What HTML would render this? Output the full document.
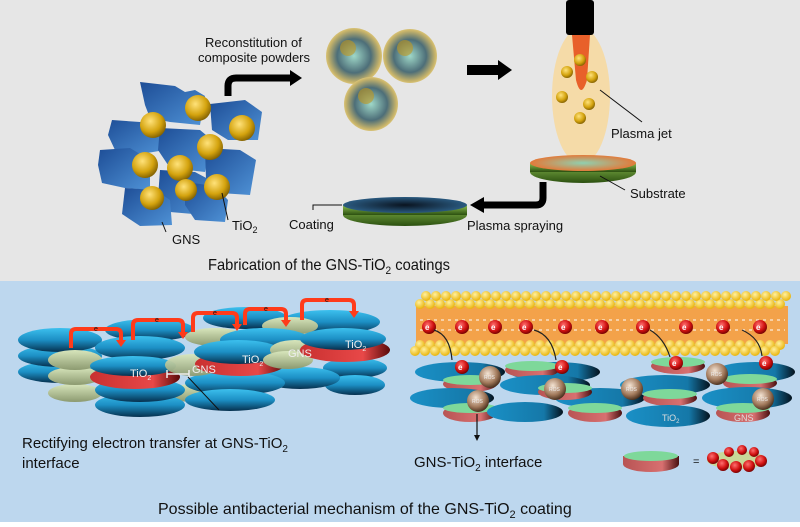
<!DOCTYPE html>
<html><head><meta charset="utf-8"><style>
html,body{margin:0;padding:0;width:800px;height:527px;overflow:hidden;background:#fff}
svg{display:block}
text{font-family:"Liberation Sans",Arial,sans-serif;fill:#111}
</style></head><body>
<svg width="800" height="527" viewBox="0 0 800 527" xmlns="http://www.w3.org/2000/svg">
<defs>
<linearGradient id="blue" x1="0" y1="0" x2="0" y2="1"><stop offset="0" stop-color="#3cc0ee"/><stop offset="0.5" stop-color="#1c8fc4"/><stop offset="1" stop-color="#06304e"/></linearGradient>
<linearGradient id="blueH" x1="0" y1="0" x2="1" y2="0"><stop offset="0" stop-color="#1a90c6"/><stop offset="0.75" stop-color="#1578a8"/><stop offset="1" stop-color="#04121e"/></linearGradient>
<linearGradient id="green" x1="0" y1="0" x2="0" y2="1"><stop offset="0" stop-color="#d8e6bc"/><stop offset="1" stop-color="#8c9a70"/></linearGradient>
<linearGradient id="red" x1="0" y1="0" x2="1" y2="0"><stop offset="0" stop-color="#c83030"/><stop offset="0.7" stop-color="#e84848"/><stop offset="1" stop-color="#5a0a0a"/></linearGradient>
<linearGradient id="redb" x1="0" y1="0" x2="1" y2="0"><stop offset="0" stop-color="#b85454"/><stop offset="0.7" stop-color="#d87070"/><stop offset="1" stop-color="#4a1010"/></linearGradient>
<linearGradient id="sheet" x1="0" y1="0" x2="1" y2="1"><stop offset="0" stop-color="#1d4d96"/><stop offset="1" stop-color="#4f92d6"/></linearGradient>
<radialGradient id="gold" cx="0.4" cy="0.35" r="0.7"><stop offset="0" stop-color="#ffe27a"/><stop offset="0.6" stop-color="#d4a30e"/><stop offset="1" stop-color="#7a5a00"/></radialGradient>
<radialGradient id="bub" cx="0.5" cy="0.5" r="0.55"><stop offset="0" stop-color="#9fd8c8"/><stop offset="0.55" stop-color="#4d6e78"/><stop offset="0.85" stop-color="#c8b46a"/><stop offset="1" stop-color="#f2d98c"/></radialGradient>
<radialGradient id="ros" cx="0.4" cy="0.35" r="0.7"><stop offset="0" stop-color="#f4e4d4"/><stop offset="0.6" stop-color="#a27a5c"/><stop offset="1" stop-color="#3c2414"/></radialGradient>
<radialGradient id="el" cx="0.4" cy="0.35" r="0.7"><stop offset="0" stop-color="#ff7070"/><stop offset="0.6" stop-color="#d01010"/><stop offset="1" stop-color="#600"/></radialGradient>
<radialGradient id="ys" cx="0.4" cy="0.35" r="0.7"><stop offset="0" stop-color="#fff0a0"/><stop offset="1" stop-color="#e8b000"/></radialGradient>
<linearGradient id="subs" x1="0" y1="0" x2="0" y2="1"><stop offset="0" stop-color="#8cc050"/><stop offset="1" stop-color="#2c5010"/></linearGradient>
<radialGradient id="subtop" cx="0.5" cy="0.5" r="0.5"><stop offset="0" stop-color="#8fd0b0"/><stop offset="1" stop-color="#e27a3a"/></radialGradient>
<radialGradient id="cotop" cx="0.5" cy="0.5" r="0.5"><stop offset="0" stop-color="#0a1420"/><stop offset="1" stop-color="#2a5a80"/></radialGradient>
</defs>

<rect x="0" y="0" width="800" height="281" fill="#e6e6e6"/>
<rect x="0" y="281" width="800" height="241" fill="#bdd7ee"/>

<!-- GNS cluster -->
<g stroke="none">
<path d="M140 82 L175 86 L185 92 L195 90 L205 96 L200 125 L170 122 L150 118 L145 105Z" fill="url(#sheet)"/>
<path d="M210 104 L245 100 L262 112 L258 140 L228 140 L212 130Z" fill="url(#sheet)"/>
<path d="M112 120 L140 122 L160 118 L165 150 L135 155 L115 150 L108 135Z" fill="url(#sheet)"/>
<path d="M160 128 L200 130 L212 140 L205 172 L170 168 L158 150Z" fill="url(#sheet)"/>
<path d="M100 150 L130 148 L150 160 L150 190 L125 188 L102 183 L98 165Z" fill="url(#sheet)"/>
<path d="M205 148 L240 150 L256 160 L250 195 L220 193 L206 180Z" fill="url(#sheet)"/>
<path d="M160 170 L195 172 L210 180 L205 215 L170 212 L158 198Z" fill="url(#sheet)"/>
<path d="M125 188 L155 190 L170 200 L172 225 L140 226 L122 214Z" fill="url(#sheet)"/>
<path d="M185 182 L215 186 L228 200 L225 222 L195 220 L185 205Z" fill="url(#sheet)"/>
</g>
<g fill="url(#gold)">
<circle cx="198" cy="108" r="13"/><circle cx="153" cy="125" r="13"/><circle cx="242" cy="128" r="13"/>
<circle cx="210" cy="147" r="13"/><circle cx="145" cy="165" r="13"/><circle cx="180" cy="168" r="13"/>
<circle cx="217" cy="187" r="13"/><circle cx="152" cy="198" r="12"/><circle cx="186" cy="190" r="11"/>
</g>
<line x1="222" y1="193" x2="228" y2="220" stroke="#111" stroke-width="1"/>
<line x1="162" y1="222" x2="166" y2="232" stroke="#111" stroke-width="1"/>
<text x="232" y="230" font-size="13">TiO<tspan font-size="9" dy="3">2</tspan></text>
<text x="172" y="244" font-size="13">GNS</text>

<path d="M228 96 L228 86 Q228 78 236 78 L292 78" fill="none" stroke="#000" stroke-width="7"/>
<polygon points="290,70 302,78 290,86" fill="#000"/>
<text x="205" y="47" font-size="13">Reconstitution of</text>
<text x="198" y="62" font-size="13">composite powders</text>

<g>
<circle cx="354" cy="56" r="28" fill="url(#bub)"/>
<circle cx="410" cy="56" r="27" fill="url(#bub)"/>
<circle cx="371" cy="104" r="27" fill="url(#bub)"/>
<circle cx="348" cy="48" r="8" fill="#c09820" opacity="0.6"/>
<circle cx="405" cy="48" r="8" fill="#c09820" opacity="0.6"/>
<circle cx="366" cy="96" r="8" fill="#c09820" opacity="0.6"/>
</g>

<rect x="467" y="65" width="32" height="10" fill="#000"/>
<polygon points="498,60 512,70 498,80" fill="#000"/>

<ellipse cx="581" cy="96" rx="29" ry="68" fill="#f5dba8"/>
<rect x="566" y="0" width="28" height="35" rx="3" fill="#000"/>
<path d="M572 35 L590 35 L587 80 Q581 100 576 80Z" fill="#e8602a"/>
<g fill="url(#gold)">
<circle cx="580" cy="60" r="6"/><circle cx="567" cy="72" r="6"/><circle cx="592" cy="77" r="6"/>
<circle cx="562" cy="97" r="6"/><circle cx="589" cy="104" r="6"/><circle cx="580" cy="118" r="6"/>
</g>
<line x1="600" y1="90" x2="642" y2="122" stroke="#111" stroke-width="1"/>
<text x="611" y="138" font-size="13">Plasma jet</text>

<ellipse cx="583" cy="172" rx="53" ry="11" fill="url(#subs)"/>
<rect x="530" y="163" width="106" height="9" fill="url(#subs)"/>
<ellipse cx="583" cy="163" rx="53" ry="8" fill="url(#subtop)"/>
<line x1="600" y1="176" x2="625" y2="190" stroke="#111" stroke-width="1"/>
<text x="630" y="198" font-size="13">Substrate</text>
<path d="M543 182 L543 198 Q543 205 536 205 L482 205" fill="none" stroke="#000" stroke-width="7"/>
<polygon points="484,197 470,205 484,213" fill="#000"/>
<text x="467" y="230" font-size="13">Plasma spraying</text>

<ellipse cx="405" cy="215" rx="62" ry="11" fill="url(#subs)"/>
<rect x="343" y="205" width="124" height="10" fill="url(#subs)"/>
<ellipse cx="405" cy="205" rx="62" ry="8" fill="url(#cotop)"/>
<path d="M342 205 L313 205 L313 210" fill="none" stroke="#111" stroke-width="1"/>
<text x="289" y="229" font-size="13">Coating</text>

<text x="208" y="270" font-size="16" textLength="242" lengthAdjust="spacingAndGlyphs">Fabrication of the GNS-TiO<tspan font-size="11" dy="4">2</tspan><tspan dy="-4"> coatings</tspan></text>

<g>
<ellipse cx="245" cy="318" rx="42" ry="11" fill="url(#blue)"/>
<ellipse cx="330" cy="322" rx="50" ry="12" fill="url(#blue)"/>
<ellipse cx="150" cy="330" rx="45" ry="11" fill="url(#blue)"/>
<ellipse cx="215" cy="337" rx="30" ry="9" fill="url(#green)"/>
<ellipse cx="290" cy="326" rx="28" ry="9" fill="url(#green)"/>
<ellipse cx="60" cy="372" rx="42" ry="11" fill="url(#blue)"/>
<ellipse cx="60" cy="356" rx="42" ry="11" fill="url(#blue)"/>
<ellipse cx="60" cy="340" rx="42" ry="12" fill="url(#blue)"/>
<ellipse cx="75" cy="393" rx="27" ry="9" fill="url(#green)"/>
<ellipse cx="75" cy="376" rx="27" ry="9" fill="url(#green)"/>
<ellipse cx="75" cy="360" rx="27" ry="10" fill="url(#green)"/>
<ellipse cx="140" cy="348" rx="45" ry="12" fill="url(#blue)"/>
<ellipse cx="265" cy="340" rx="45" ry="12" fill="url(#blue)"/>
<ellipse cx="355" cy="368" rx="32" ry="10" fill="url(#blue)"/>
<ellipse cx="355" cy="385" rx="30" ry="10" fill="url(#blue)"/>
<ellipse cx="300" cy="378" rx="40" ry="11" fill="url(#blue)"/>
<ellipse cx="195" cy="393" rx="30" ry="9" fill="url(#green)"/>
<ellipse cx="235" cy="383" rx="50" ry="12" fill="url(#blue)"/>
<ellipse cx="230" cy="400" rx="45" ry="11" fill="url(#blue)"/>
<ellipse cx="140" cy="405" rx="45" ry="12" fill="url(#blue)"/>
<ellipse cx="140" cy="390" rx="45" ry="12" fill="url(#blue)"/>
<ellipse cx="135" cy="377" rx="45" ry="12" fill="url(#red)"/>
<ellipse cx="133" cy="366" rx="43" ry="10" fill="url(#blue)"/>
<ellipse cx="193" cy="365" rx="28" ry="11" fill="url(#green)" opacity="0.95"/>
<ellipse cx="240" cy="364" rx="45" ry="12" fill="url(#red)"/>
<ellipse cx="238" cy="352" rx="44" ry="12" fill="url(#blue)"/>
<ellipse cx="295" cy="350" rx="25" ry="10" fill="url(#green)"/>
<ellipse cx="288" cy="360" rx="25" ry="9" fill="url(#green)"/>
<ellipse cx="345" cy="350" rx="45" ry="12" fill="url(#red)"/>
<ellipse cx="343" cy="339" rx="43" ry="11" fill="url(#blue)"/>
</g>
<g font-size="11">
<text x="130" y="377" style="fill:#eee">TiO<tspan font-size="7" dy="3">2</tspan></text>
<text x="192" y="373" style="fill:#eee">GNS</text>
<text x="242" y="363" style="fill:#eee">TiO<tspan font-size="7" dy="3">2</tspan></text>
<text x="288" y="357" style="fill:#eee">GNS</text>
<text x="345" y="348" style="fill:#eee">TiO<tspan font-size="7" dy="3">2</tspan></text>
</g>
<path d="M167 374 L189 374 M167 370 L167 378 M189 370 L189 378" stroke="#eee" stroke-width="1.5"/>
<line x1="188" y1="377" x2="219" y2="410" stroke="#111" stroke-width="1"/>
<g fill="none" stroke="#ff3b1a" stroke-width="4">
<path d="M71 348 L71 334 Q71 329 76 329 L116 329 Q121 329 121 334 L121 341"/>
<path d="M133 340 L133 325 Q133 320 138 320 L178 320 Q183 320 183 325 L183 333"/>
<path d="M193 332 L193 318 Q193 313 198 313 L232 313 Q237 313 237 318 L237 325"/>
<path d="M245 325 L245 314 Q245 309 250 309 L281 309 Q286 309 286 314 L286 321"/>
<path d="M302 320 L302 305 Q302 300 307 300 L349 300 Q354 300 354 305 L354 312"/>
</g>
<g fill="#ff3b1a">
<polygon points="116,340 126,340 121,347"/><polygon points="178,332 188,332 183,339"/>
<polygon points="232,324 242,324 237,331"/><polygon points="281,320 291,320 286,327"/>
<polygon points="349,311 359,311 354,318"/>
</g>
<g font-size="7"><text x="94" y="331">e</text><text x="155" y="322">e</text><text x="213" y="315">e</text><text x="264" y="311">e</text><text x="325" y="302">e</text></g>

<text x="22" y="448" font-size="15">Rectifying electron transfer at GNS-TiO<tspan font-size="10" dy="4">2</tspan></text>
<text x="22" y="468" font-size="15">interface</text>

<rect x="416" y="306" width="372" height="38" fill="#f3a24a"/>
<g stroke="#fff" stroke-width="1.2" opacity="0.8">
<path d="M420 320 H785 M420 330 H785" stroke-dasharray="3 4"/>
</g>
<g fill="url(#ys)" id="row1">
<circle cx="420" cy="304" r="5"/><circle cx="430" cy="304" r="5"/><circle cx="440" cy="304" r="5"/><circle cx="450" cy="304" r="5"/><circle cx="460" cy="304" r="5"/><circle cx="470" cy="304" r="5"/><circle cx="480" cy="304" r="5"/><circle cx="490" cy="304" r="5"/><circle cx="500" cy="304" r="5"/><circle cx="510" cy="304" r="5"/><circle cx="520" cy="304" r="5"/><circle cx="530" cy="304" r="5"/><circle cx="540" cy="304" r="5"/><circle cx="550" cy="304" r="5"/><circle cx="560" cy="304" r="5"/><circle cx="570" cy="304" r="5"/><circle cx="580" cy="304" r="5"/><circle cx="590" cy="304" r="5"/><circle cx="600" cy="304" r="5"/><circle cx="610" cy="304" r="5"/><circle cx="620" cy="304" r="5"/><circle cx="630" cy="304" r="5"/><circle cx="640" cy="304" r="5"/><circle cx="650" cy="304" r="5"/><circle cx="660" cy="304" r="5"/><circle cx="670" cy="304" r="5"/><circle cx="680" cy="304" r="5"/><circle cx="690" cy="304" r="5"/><circle cx="700" cy="304" r="5"/><circle cx="710" cy="304" r="5"/><circle cx="720" cy="304" r="5"/><circle cx="730" cy="304" r="5"/><circle cx="740" cy="304" r="5"/><circle cx="750" cy="304" r="5"/><circle cx="760" cy="304" r="5"/><circle cx="770" cy="304" r="5"/><circle cx="780" cy="304" r="5"/>
</g>
<use href="#row1" transform="translate(6,-8)"/>
<use href="#row1" transform="translate(0,41)"/>
<use href="#row1" transform="translate(-5,47)"/>
<g fill="url(#el)">
<circle cx="429" cy="327" r="7"/><circle cx="462" cy="327" r="7"/><circle cx="495" cy="327" r="7"/><circle cx="526" cy="327" r="7"/><circle cx="565" cy="327" r="7"/><circle cx="602" cy="327" r="7"/><circle cx="643" cy="327" r="7"/><circle cx="686" cy="327" r="7"/><circle cx="723" cy="327" r="7"/><circle cx="760" cy="327" r="7"/>
</g>
<g fill="none" stroke="#222" stroke-width="1.2">
<path d="M434 330 Q450 335 452 360"/><path d="M534 330 Q552 335 556 360"/><path d="M650 330 Q664 338 670 357"/><path d="M742 330 Q760 338 762 356"/>
</g>
<g>
<ellipse cx="460" cy="372" rx="45" ry="10" fill="url(#blueH)"/>
<ellipse cx="555" cy="372" rx="45" ry="10" fill="url(#blueH)"/>
<ellipse cx="755" cy="372" rx="40" ry="10" fill="url(#blueH)"/>
<ellipse cx="532" cy="370" rx="27" ry="8" fill="url(#redb)"/><ellipse cx="532" cy="366" rx="27" ry="5" fill="#7ed89a"/>
<ellipse cx="678" cy="366" rx="27" ry="8" fill="url(#redb)"/><ellipse cx="678" cy="362" rx="27" ry="5" fill="#7ed89a"/>
<ellipse cx="470" cy="384" rx="27" ry="8" fill="url(#redb)"/><ellipse cx="470" cy="380" rx="27" ry="5" fill="#7ed89a"/>
<ellipse cx="545" cy="385" rx="45" ry="10" fill="url(#blueH)"/>
<ellipse cx="665" cy="385" rx="45" ry="10" fill="url(#blueH)"/>
<ellipse cx="750" cy="383" rx="27" ry="8" fill="url(#redb)"/><ellipse cx="750" cy="379" rx="27" ry="5" fill="#7ed89a"/>
<ellipse cx="452" cy="398" rx="42" ry="10" fill="url(#blueH)"/>
<ellipse cx="600" cy="398" rx="45" ry="10" fill="url(#blueH)"/>
<ellipse cx="565" cy="392" rx="27" ry="8" fill="url(#redb)"/><ellipse cx="565" cy="388" rx="27" ry="5" fill="#7ed89a"/>
<ellipse cx="670" cy="398" rx="27" ry="8" fill="url(#redb)"/><ellipse cx="670" cy="394" rx="27" ry="5" fill="#7ed89a"/>
<ellipse cx="747" cy="398" rx="45" ry="11" fill="url(#blueH)"/>
<ellipse cx="470" cy="413" rx="27" ry="9" fill="url(#redb)"/><ellipse cx="470" cy="408" rx="27" ry="5" fill="#7ed89a"/>
<ellipse cx="525" cy="412" rx="38" ry="10" fill="url(#blueH)"/>
<ellipse cx="595" cy="413" rx="27" ry="9" fill="url(#redb)"/><ellipse cx="595" cy="408" rx="27" ry="5" fill="#7ed89a"/>
<ellipse cx="668" cy="416" rx="42" ry="11" fill="url(#blueH)"/>
<ellipse cx="743" cy="413" rx="27" ry="9" fill="url(#redb)"/><ellipse cx="743" cy="408" rx="27" ry="5" fill="#7ed89a"/>
</g>
<g fill="url(#ros)">
<circle cx="490" cy="377" r="11"/><circle cx="555" cy="389" r="11"/><circle cx="478" cy="401" r="11"/>
<circle cx="632" cy="389" r="11"/><circle cx="717" cy="374" r="11"/><circle cx="763" cy="399" r="11"/>
</g>
<g font-size="5"><text x="484" y="379" style="fill:#eee">ROS</text><text x="549" y="391" style="fill:#eee">ROS</text><text x="472" y="403" style="fill:#eee">ROS</text><text x="626" y="391" style="fill:#eee">ROS</text><text x="711" y="376" style="fill:#eee">ROS</text><text x="757" y="401" style="fill:#eee">ROS</text></g>
<g fill="url(#el)"><circle cx="462" cy="367" r="7"/><circle cx="562" cy="367" r="7"/><circle cx="676" cy="363" r="7"/><circle cx="766" cy="363" r="7"/></g>
<g font-size="8" font-weight="bold">
<text x="425" y="330" style="fill:#fff">e</text><text x="458" y="330" style="fill:#fff">e</text><text x="491" y="330" style="fill:#fff">e</text><text x="522" y="330" style="fill:#fff">e</text><text x="561" y="330" style="fill:#fff">e</text><text x="598" y="330" style="fill:#fff">e</text><text x="639" y="330" style="fill:#fff">e</text><text x="682" y="330" style="fill:#fff">e</text><text x="719" y="330" style="fill:#fff">e</text><text x="756" y="330" style="fill:#fff">e</text>
<text x="458" y="370" style="fill:#fff">e</text><text x="558" y="370" style="fill:#fff">e</text><text x="672" y="366" style="fill:#fff">e</text><text x="762" y="366" style="fill:#fff">e</text>
</g>
<text x="662" y="421" font-size="9" style="fill:#ddd">TiO<tspan font-size="6" dy="2">2</tspan></text>
<text x="734" y="421" font-size="9" style="fill:#ddd">GNS</text>
<line x1="477" y1="414" x2="477" y2="436" stroke="#111" stroke-width="1.2"/>
<polygon points="474,435 480,435 477,441" fill="#111"/>
<text x="414" y="467" font-size="15">GNS-TiO<tspan font-size="10" dy="4">2</tspan><tspan dy="-4"> interface</tspan></text>

<ellipse cx="651" cy="464" rx="28" ry="8" fill="url(#redb)"/>
<rect x="623" y="456" width="56" height="8" fill="url(#redb)"/>
<ellipse cx="651" cy="456" rx="27" ry="5" fill="#7ed89a"/>
<text x="693" y="465" font-size="11">=</text>
<ellipse cx="737" cy="460" rx="30" ry="9" fill="#c8d898"/>
<g fill="url(#el)">
<circle cx="713" cy="458" r="6"/><circle cx="723" cy="465" r="6"/><circle cx="736" cy="467" r="6"/><circle cx="749" cy="466" r="6"/><circle cx="761" cy="461" r="6"/><circle cx="729" cy="452" r="5"/><circle cx="742" cy="450" r="5"/><circle cx="754" cy="452" r="5"/>
</g>

<text x="158" y="514" font-size="16">Possible antibacterial mechanism of the GNS-TiO<tspan font-size="11" dy="4">2</tspan><tspan dy="-4"> coating</tspan></text>
</svg>
</body></html>
